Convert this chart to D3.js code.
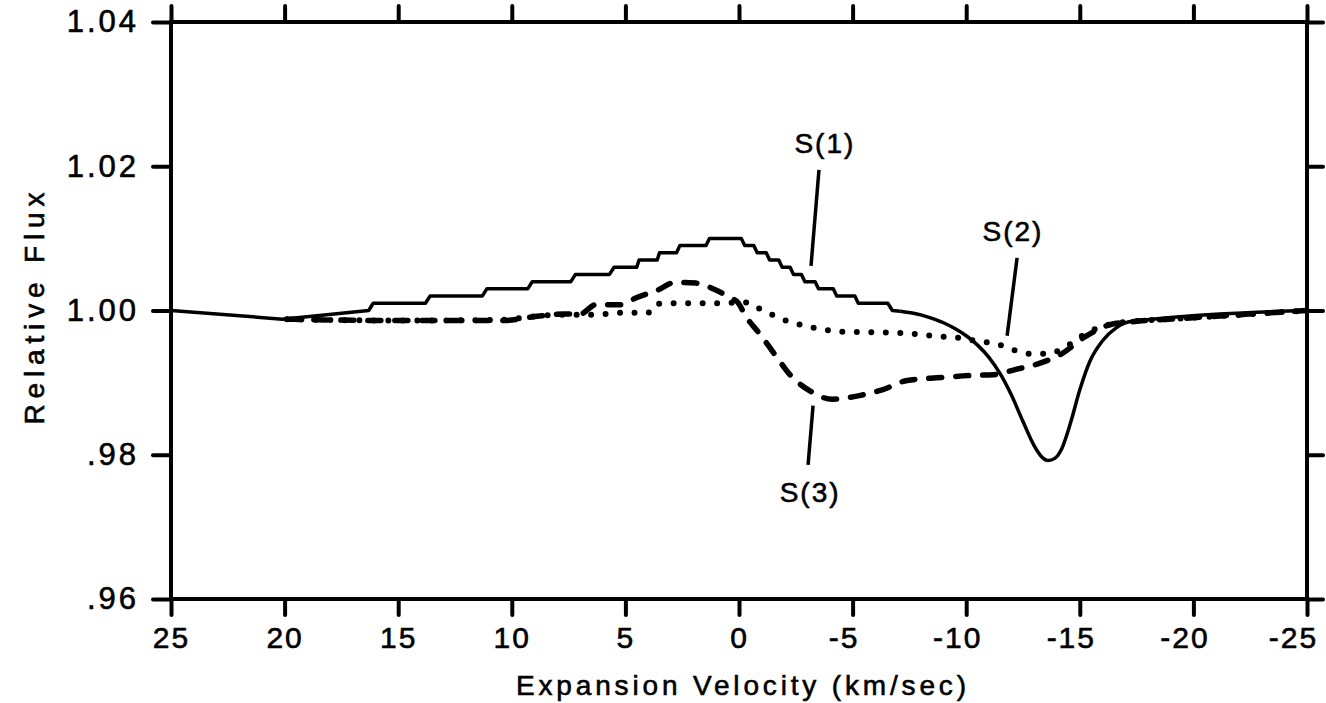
<!DOCTYPE html>
<html>
<head>
<meta charset="utf-8">
<script src="https://cdn.jsdelivr.net/npm/d3@7"></script>
<style>
  html, body { margin: 0; padding: 0; background: #fff; }
  svg { display: block; }
  text { font-family: "Liberation Sans", "DejaVu Sans", sans-serif; fill: #000; stroke: #000; stroke-width: 0.6px; }
</style>
</head>
<body>
<svg id="chart" width="1326" height="703"></svg>
<script>
// ---- data ----
const xTicks = [25, 20, 15, 10, 5, 0, -5, -10, -15, -20, -25];
const xTickLabels = ["25", "20", "15", "10", "5", "0", "-5", "-10", "-15", "-20", "-25"];
const yTicks = [1.04, 1.02, 1.00, 0.98, 0.96];
const yTickLabels = ["1.04", "1.02", "1.00", ".98", ".96"];
const xTitle = "Expansion Velocity (km/sec)";
const yTitle = "Relative Flux";

// S(1) solid: [velocity, flux]
const s1 = [
  [25, 1.0], [20.1, 0.9988], [16.3, 1.0], [16.1, 1.001], [13.8, 1.001], [13.6, 1.002],
  [11.3, 1.002], [11.1, 1.003], [9.3, 1.003], [9.1, 1.004], [7.4, 1.004], [7.2, 1.005],
  [5.7, 1.005], [5.5, 1.006], [4.5, 1.006], [4.4, 1.007], [3.6, 1.007], [3.5, 1.008],
  [2.75, 1.008], [2.6, 1.009], [1.45, 1.009], [1.3, 1.010], [-0.1, 1.010], [-0.25, 1.009],
  [-0.65, 1.009], [-0.8, 1.008], [-1.2, 1.008], [-1.35, 1.007], [-1.75, 1.007], [-1.9, 1.006],
  [-2.25, 1.006], [-2.4, 1.005], [-2.75, 1.005], [-2.9, 1.004], [-3.35, 1.004], [-3.5, 1.003],
  [-4.15, 1.003], [-4.3, 1.002], [-5.1, 1.002], [-5.25, 1.001], [-6.55, 1.001], [-6.75, 1.0],
  [-7.1, 0.9999], [-8.0, 0.9994], [-8.5, 0.9989], [-9.0, 0.9983], [-9.5, 0.9975],
  [-10.0, 0.9965], [-10.5, 0.9952], [-11.0, 0.9935], [-11.5, 0.9912], [-12.0, 0.9882],
  [-12.5, 0.9846], [-13.0, 0.9812], [-13.3, 0.9798], [-13.6, 0.9792], [-13.9, 0.9795],
  [-14.2, 0.9808], [-14.6, 0.9845], [-15.0, 0.9890], [-15.45, 0.9930], [-16.0, 0.9958],
  [-16.6, 0.9976], [-17.3, 0.9985], [-25, 1.0]
];
// S(2) dotted
const s2 = [
  [19.9, 0.9988], [15, 0.9986], [10.5, 0.9987], [9.0, 0.9992], [8.0, 0.9994], [6.4, 0.9994],
  [5.2, 0.9997], [4.0, 0.9997], [3.7, 1.0009], [3.0, 1.0010], [1.0, 1.0010], [0.0, 1.0011],
  [-0.35, 1.0011], [-0.8, 1.0004], [-1.28, 0.9997], [-1.8, 0.9989], [-2.4, 0.9983],
  [-3.0, 0.9978], [-3.65, 0.9974], [-4.3, 0.9971], [-5.6, 0.9970], [-7.5, 0.9968],
  [-8.8, 0.9964], [-9.4, 0.9963], [-10.4, 0.9958], [-10.9, 0.9956], [-11.4, 0.9953],
  [-11.8, 0.9949], [-12.4, 0.9942], [-12.9, 0.9940], [-13.6, 0.9940], [-14.1, 0.9945],
  [-14.7, 0.9956], [-15.1, 0.9965], [-15.8, 0.9976], [-16.5, 0.9982], [-17.4, 0.9985],
  [-20, 0.9990], [-25, 1.0]
];
// S(3) dashed
const s3 = [
  [19.9, 0.9988], [15, 0.9986], [10.4, 0.9986], [8.9, 0.9992], [7.7, 0.9995], [7.0, 0.9995],
  [6.3, 1.0008], [5.2, 1.0008], [4.5, 1.0018], [3.6, 1.0028], [2.8, 1.0039], [1.9, 1.0038],
  [1.0, 1.0028], [0.4, 1.0018], [0.05, 1.0011], [-0.3, 0.9992], [-0.9, 0.9968],
  [-1.67, 0.9935], [-2.24, 0.9911], [-3.1, 0.9889], [-4.1, 0.9877], [-5.3, 0.9882],
  [-6.3, 0.9890], [-7.4, 0.9903], [-8.9, 0.9907], [-10.2, 0.9910], [-11.2, 0.9911],
  [-12.15, 0.9918], [-13.25, 0.9927], [-14.2, 0.9940], [-15.2, 0.9963], [-16.4, 0.9981],
  [-17.2, 0.9984], [-20, 0.9990], [-25, 1.0]
];
// labels: [velocity, flux] of text centre/baseline, and leader lines [v1, f1, v2, f2]
const labelNames = ["S(1)", "S(2)", "S(3)"];
const labelPos = [[-3.78, 1.0219], [-12.06, 1.0097], [-3.13, 0.9735]];
const leaders = [
  [-3.52, 1.0195, -3.17, 1.0062],
  [-12.24, 1.0073, -11.8, 0.9965],
  [-3.26, 0.9868, -3.04, 0.9786]
];

// ---- layout ----
const W = 1326, H = 703;
const margin = { left: 171, right: W - 1307, top: 22, bottom: H - 599 };
const svg = d3.select("#chart");

const x = d3.scaleLinear().domain([25, -25]).range([margin.left, W - margin.right]);
const y = d3.scaleLinear().domain([0.96, 1.04]).range([H - margin.bottom, margin.top]);

const tickLen = 16;
const axisStroke = 4;

function styleAxis(g) {
  g.select(".domain").remove();
  g.selectAll(".tick line").attr("stroke", "#000").attr("stroke-width", axisStroke).attr("stroke-linecap", "round");
}

// bottom axis
const gx = svg.append("g").attr("transform", `translate(0,${y(0.96)})`)
  .call(d3.axisBottom(x).tickValues(xTicks).tickSize(tickLen).tickPadding(10)
    .tickFormat((d, i) => xTickLabels[i]));
styleAxis(gx);
gx.selectAll(".tick text").attr("font-size", 30).attr("letter-spacing", "2px").attr("dy", "0.75em")
  .attr("dx", (d, i) => xTickLabels[i].startsWith("-") ? (i === xTicks.length - 1 ? -14 : -9) : 0)
  .attr("style", "word-spacing:0");

// top axis (ticks only)
const gxt = svg.append("g").attr("transform", `translate(0,${y(1.04)})`)
  .call(d3.axisTop(x).tickValues(xTicks).tickSize(tickLen).tickFormat(""));
styleAxis(gxt);

// left axis
const gy = svg.append("g").attr("transform", `translate(${x(25)},0)`)
  .call(d3.axisLeft(y).tickValues(yTicks).tickSize(tickLen + 2).tickPadding(14)
    .tickFormat((d, i) => yTickLabels[i]));
styleAxis(gy);
gy.selectAll(".tick text").attr("font-size", 31).attr("letter-spacing", "3px");

// right axis
const gyr = svg.append("g").attr("transform", `translate(${x(-25)},0)`)
  .call(d3.axisRight(y).tickValues(yTicks).tickSize(tickLen).tickFormat(""));
styleAxis(gyr);

// frame
svg.append("rect")
  .attr("x", x(25)).attr("y", y(1.04))
  .attr("width", x(-25) - x(25)).attr("height", y(0.96) - y(1.04))
  .attr("fill", "none").attr("stroke", "#000").attr("stroke-width", axisStroke);

// axis titles
svg.append("text")
  .attr("x", (x(25) + x(-25)) / 2 + 2).attr("y", 695)
  .attr("text-anchor", "middle").attr("font-size", 28)
  .attr("textLength", 450).attr("lengthAdjust", "spacing")
  .text(xTitle);

svg.append("text")
  .attr("transform", `translate(44,${y(1.0) - 2}) rotate(-90)`)
  .attr("text-anchor", "middle").attr("font-size", 28)
  .attr("textLength", 232).attr("lengthAdjust", "spacing")
  .text(yTitle);

// ---- curves ----
const line = (curve) => d3.line().x(d => x(d[0])).y(d => y(d[1])).curve(curve);

const s1Step = s1.filter(d => d[0] >= -7.1);
const s1Smooth = s1.filter(d => d[0] <= -7.1);

const plot = svg.append("g");

plot.append("path").datum(s2)
  .attr("d", line(d3.curveMonotoneX))
  .attr("fill", "none").attr("stroke", "#000").attr("stroke-width", 6)
  .attr("stroke-linecap", "round").attr("stroke-dasharray", "0 14.5");

plot.append("path").datum(s3)
  .attr("d", line(d3.curveMonotoneX))
  .attr("fill", "none").attr("stroke", "#000").attr("stroke-width", 5.5)
  .attr("stroke-linecap", "round").attr("stroke-dasharray", "13 14");

plot.append("path").datum(s1Step)
  .attr("d", line(d3.curveLinear))
  .attr("fill", "none").attr("stroke", "#000").attr("stroke-width", 3.5)
  .attr("stroke-linejoin", "round");

plot.append("path").datum(s1Smooth)
  .attr("d", line(d3.curveMonotoneX))
  .attr("fill", "none").attr("stroke", "#000").attr("stroke-width", 3.5)
  .attr("stroke-linejoin", "round");

// ---- labels ----
labelNames.forEach((name, i) => {
  svg.append("text")
    .attr("x", x(labelPos[i][0])).attr("y", y(labelPos[i][1]))
    .attr("text-anchor", "middle").attr("font-size", 28).attr("letter-spacing", "2px")
    .text(name);
  const L = leaders[i];
  svg.append("line")
    .attr("x1", x(L[0])).attr("y1", y(L[1]))
    .attr("x2", x(L[2])).attr("y2", y(L[3]))
    .attr("stroke", "#000").attr("stroke-width", 3.5);
});
</script>
</body>
</html>
